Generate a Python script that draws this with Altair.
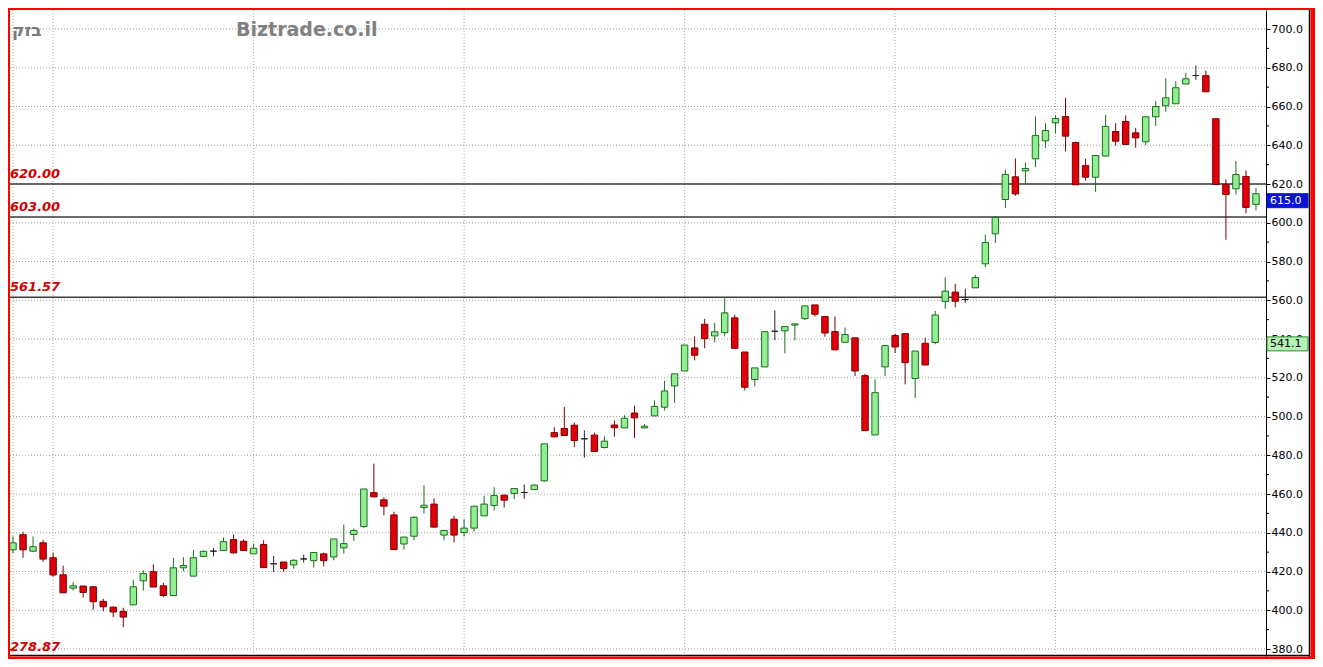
import altair as alt
import pandas as pd

# ---- data (Bezeq daily candles) ----
opens = [431.2, 439.0, 430.5, 434.8, 427.1, 418.3, 411.4, 412.5, 412.1, 404.6,
         401.6, 399.4, 402.8, 415.2, 419.9, 412.6, 407.6, 421.9, 417.6, 427.8,
         430.5, 430.8, 436.5, 435.6, 429.1, 433.9, 424.0, 424.9, 423.4, 426.5,
         425.6, 429.1, 427.5, 432.2, 439.1, 443.2, 460.7, 457.0, 449.2, 434.2,
         438.2, 453.0, 454.8, 438.8, 447.0, 440.1, 442.4, 448.7, 454.1, 459.4,
         460.3, 460.8, 462.3, 466.8, 491.7, 493.8, 495.5, 488.5, 490.4, 484.0,
         495.6, 494.1, 501.8, 494.1, 500.3, 504.8, 515.8, 523.5, 535.4, 547.6,
         541.6, 543.3, 550.9, 533.3, 519.1, 525.6, 544.0, 544.2, 547.2, 550.5,
         557.6, 551.6, 543.8, 538.3, 540.6, 521.1, 490.5, 525.6, 541.8, 542.8,
         519.6, 537.8, 538.2, 559.4, 564.2, 560.4, 566.4, 578.8, 594.3, 612.0,
         623.7, 626.8, 633.0, 642.3, 651.6, 654.8, 641.4, 629.5, 623.5, 634.4,
         647.1, 652.3, 646.4, 641.8, 654.7, 660.4, 661.4, 671.6, 676.0, 675.9,
         653.7, 619.8, 617.5, 623.9, 609.5]
highs = [438.1, 440.5, 438.1, 436.4, 429.7, 423.0, 414.5, 412.5, 412.6, 405.9,
         402.0, 401.3, 415.7, 420.6, 423.7, 414.2, 427.1, 427.4, 431.2, 430.9,
         432.1, 437.5, 439.1, 436.6, 434.4, 436.1, 428.0, 424.9, 426.3, 428.7,
         429.8, 429.8, 436.8, 444.2, 442.2, 462.6, 475.7, 458.2, 450.9, 437.8,
         448.5, 464.6, 457.8, 441.2, 448.7, 447.0, 453.7, 459.1, 463.5, 459.7,
         462.8, 464.9, 464.9, 485.9, 494.5, 505.0, 496.9, 492.8, 491.7, 489.8,
         498.0, 500.6, 505.5, 496.0, 508.3, 518.4, 522.0, 536.9, 541.4, 550.4,
         548.3, 561.7, 552.6, 533.3, 525.1, 543.8, 554.8, 546.4, 547.8, 557.1,
         557.6, 551.6, 551.6, 545.9, 540.6, 522.0, 519.2, 536.6, 542.8, 542.8,
         533.8, 540.7, 554.5, 571.9, 568.5, 565.9, 573.1, 593.9, 603.5, 627.5,
         633.2, 631.1, 654.8, 651.4, 655.4, 664.5, 641.9, 633.0, 634.7, 655.7,
         651.4, 655.4, 649.0, 654.7, 662.8, 674.5, 673.1, 677.4, 681.2, 678.5,
         653.7, 622.4, 631.8, 627.0, 617.9]
lows = [429.5, 427.1, 430.0, 424.9, 417.3, 409.0, 410.2, 406.5, 400.3, 399.4,
        396.5, 391.3, 402.8, 410.1, 412.0, 406.8, 407.6, 420.2, 417.6, 427.4,
        427.8, 430.8, 429.2, 430.8, 429.1, 422.0, 419.8, 419.8, 421.5, 424.6,
        422.0, 422.7, 425.8, 429.2, 435.8, 442.5, 458.5, 449.0, 431.3, 431.3,
        436.1, 449.9, 442.9, 436.0, 435.0, 438.1, 440.6, 448.7, 451.5, 453.0,
        457.3, 457.5, 462.3, 466.3, 489.2, 490.2, 484.2, 478.8, 481.9, 483.5,
        489.6, 494.1, 488.9, 494.1, 500.3, 503.1, 507.0, 523.5, 529.0, 535.2,
        538.3, 541.4, 535.2, 513.5, 515.6, 525.6, 539.4, 532.6, 539.4, 549.8,
        551.6, 541.2, 534.4, 538.3, 520.9, 492.7, 490.5, 520.8, 532.8, 516.6,
        509.6, 526.6, 537.3, 555.6, 556.4, 558.7, 566.4, 577.1, 589.6, 607.7,
        613.9, 620.1, 628.7, 638.7, 646.2, 636.8, 619.6, 621.8, 616.0, 634.4,
        639.9, 640.4, 638.7, 640.1, 649.9, 657.3, 661.4, 671.6, 673.8, 667.6,
        619.8, 591.2, 614.6, 604.8, 606.4]
closes = [434.8, 431.2, 432.8, 426.4, 418.2, 409.0, 412.6, 409.2, 404.4, 401.8,
          399.1, 396.5, 412.1, 419.0, 412.0, 407.6, 421.9, 423.1, 427.1, 430.4,
          430.5, 435.4, 429.6, 430.8, 432.0, 422.0, 424.0, 421.5, 425.8, 426.5,
          429.8, 425.6, 436.8, 434.4, 441.2, 462.6, 458.5, 453.7, 431.3, 437.8,
          448.0, 454.2, 442.9, 441.2, 438.8, 442.4, 453.7, 454.8, 459.2, 456.8,
          462.8, 460.8, 464.6, 485.9, 489.5, 490.2, 487.6, 488.5, 481.9, 487.3,
          494.2, 499.1, 499.3, 495.0, 505.2, 513.2, 522.0, 536.9, 531.6, 540.2,
          543.7, 553.5, 535.2, 515.1, 525.1, 543.8, 544.0, 546.4, 547.8, 557.1,
          552.8, 543.1, 534.4, 542.3, 523.5, 492.7, 512.3, 536.6, 535.9, 527.8,
          533.8, 526.6, 552.4, 564.7, 559.5, 560.4, 571.7, 589.8, 602.7, 624.9,
          614.9, 628.0, 645.0, 647.6, 653.8, 644.7, 619.6, 623.5, 634.7, 649.7,
          642.1, 640.4, 643.8, 654.7, 660.0, 664.5, 669.7, 674.3, 676.0, 667.6,
          619.8, 614.6, 624.9, 607.9, 615.0]

level_values = [620.0, 603.0, 561.57]
level_labels = ["620.00", "603.00", "561.57"]
grid_values = list(range(380, 701, 20))
minor_values = list(range(390, 700, 20))
month_starts = [0, 4, 24, 45, 67, 88, 104]
last_price = [615.0]
marker_price = [541.1]
bottom_label = "278.87"
title_he = "בזק"
title_site = "Biztrade.co.il"

# ---- layout ----
W, H = 1256, 646
YMIN, YMAX = 376.39, 709.81
XMIN, XMAX = -0.3, 125.0
PX_PER_UNIT = H / (YMAX - YMIN)

n = len(opens)
df = pd.DataFrame({"i": list(range(n)), "open": opens, "high": highs,
                   "low": lows, "close": closes})
df["dir"] = ["up" if c > o else ("down" if c < o else "flat")
             for o, c in zip(opens, closes)]

xs = alt.Scale(domain=[XMIN, XMAX], nice=False, zero=False)
ys = alt.Scale(domain=[YMIN, YMAX], nice=False, zero=False)
yaxis = alt.Axis(orient="right", values=grid_values, format=".1f", grid=False,
                 title=None, domainColor="#000000", domainWidth=1,
                 tickColor="#000000", tickSize=4, labelPadding=1,
                 labelFont="DejaVu Sans", labelFontSize=11,
                 labelColor="#000000", labelBaseline="middle")

def Y(field, t="Q"):
    return alt.Y(f"{field}:{t}", scale=ys, axis=yaxis)

dir_dom = ["up", "down", "flat"]
fill_sc = alt.Scale(domain=dir_dom, range=["#92ee92", "#e0000a", "#2a2a2a"])
stroke_sc = alt.Scale(domain=dir_dom, range=["#1d6e1d", "#7a0000", "#202020"])

one = pd.DataFrame({"k": [0]})

hgrid = alt.Chart(pd.DataFrame({"v": grid_values})).mark_rule(
    color="#9c9c9c", strokeDash=[1, 2], strokeWidth=1
).encode(y=Y("v"), x=alt.value(0), x2=alt.value(W))

vgrid = alt.Chart(pd.DataFrame({"m": month_starts})).mark_rule(
    color="#a8a8a8", strokeDash=[1, 2], strokeWidth=1
).encode(x=alt.X("m:Q", scale=xs, axis=None), y=alt.value(0), y2=alt.value(H))

levels_df = pd.DataFrame({"v": level_values, "lab": level_labels})
level_lines = alt.Chart(levels_df).mark_rule(color="#3a3a3a", strokeWidth=1.5).encode(
    y=Y("v"), x=alt.value(0), x2=alt.value(W))
level_text = alt.Chart(levels_df).mark_text(
    align="left", baseline="bottom", dy=-3, font="DejaVu Sans", fontSize=13,
    fontStyle="italic", fontWeight="bold", color="#d40000"
).encode(y=Y("v"), x=alt.value(0), text="lab:N")

wicks = alt.Chart(df).mark_rule(strokeWidth=1).encode(
    x=alt.X("i:Q", scale=xs, axis=None), y=Y("low"), y2="high:Q",
    stroke=alt.Stroke("dir:N", scale=stroke_sc, legend=None))

bodies = alt.Chart(df).transform_calculate(
    x0="datum.i - 0.32", x1="datum.i + 0.32"
).mark_rect(strokeWidth=1).encode(
    x=alt.X("x0:Q", scale=xs, axis=None), x2="x1:Q",
    y=Y("open"), y2="close:Q",
    fill=alt.Fill("dir:N", scale=fill_sc, legend=None),
    stroke=alt.Stroke("dir:N", scale=stroke_sc, legend=None))

minor = alt.Chart(pd.DataFrame({"v": minor_values})).mark_rule(color="#000000").encode(
    y=Y("v"), x=alt.value(W), x2=alt.value(W + 3))


def price_box(values, fill, stroke, text_color):
    d = pd.DataFrame({"v": values})
    d["lab"] = [f"{v:.1f}" for v in values]
    d["v2"] = d["v"] - 14 / PX_PER_UNIT
    box = alt.Chart(d).mark_rect(fill=fill, stroke=stroke, strokeWidth=1).encode(
        y=Y("v"), y2="v2:Q", x=alt.value(W + 1), x2=alt.value(W + 42))
    lab = alt.Chart(d).mark_text(
        align="left", baseline="middle", dy=7, font="DejaVu Sans", fontSize=11,
        color=text_color
    ).encode(y=Y("v"), x=alt.value(W + 4), text="lab:N")
    return box, lab


last_box, last_lab = price_box(last_price, "#0a14d0", "#0a14d0", "#ffffff")
mark_box, mark_lab = price_box(marker_price, "#b6f2b6", "#2e8b2e", "#000000")

t_he = alt.Chart(one).mark_text(
    align="left", baseline="middle", font="DejaVu Sans", fontSize=17,
    fontWeight="bold", color="#7a7a7a", text=title_he
).encode(x=alt.value(2), y=alt.value(21))
t_site = alt.Chart(one).mark_text(
    align="left", baseline="middle", font="DejaVu Sans", fontSize=19,
    fontWeight="bold", color="#808080", text=title_site
).encode(x=alt.value(226), y=alt.value(20))
t_bottom = alt.Chart(one).mark_text(
    align="left", baseline="alphabetic", font="DejaVu Sans", fontSize=13,
    fontStyle="italic", fontWeight="bold", color="#d40000", text=bottom_label
).encode(x=alt.value(0), y=alt.value(641))

# frame decorations
bottom_line = alt.Chart(one).mark_rule(color="#000000", strokeWidth=1.5).encode(
    y=alt.value(645.5), x=alt.value(-2), x2=alt.value(1300))
right_line = alt.Chart(one).mark_rule(color="#000000", strokeWidth=1.5).encode(
    x=alt.value(1299.5), y=alt.value(-2), y2=alt.value(647))
red_left = alt.Chart(one).mark_rect(color="#ff0000").encode(
    x=alt.value(-2), x2=alt.value(0), y=alt.value(-2), y2=alt.value(649))
red_top = alt.Chart(one).mark_rect(color="#ff0000").encode(
    x=alt.value(-2), x2=alt.value(1305), y=alt.value(-2), y2=alt.value(0))
red_right = alt.Chart(one).mark_rect(color="#ff0000").encode(
    x=alt.value(1300.5), x2=alt.value(1305), y=alt.value(-2), y2=alt.value(649))
red_bottom = alt.Chart(one).mark_rect(color="#ff0000").encode(
    x=alt.value(-2), x2=alt.value(1305), y=alt.value(646.5), y2=alt.value(649))

chart = alt.layer(
    hgrid, vgrid, level_lines, level_text, wicks, bodies, minor,
    last_box, last_lab, mark_box, mark_lab, t_he, t_site, t_bottom,
    bottom_line, right_line, red_left, red_top, red_right, red_bottom
).properties(
    width=W, height=H,
    autosize=alt.AutoSizeParams(type="none"),
    padding={"left": 2, "top": 2, "right": 49, "bottom": 3},
    background="#ffffff"
).configure_view(stroke=None)

chart.save("out.html", embed_options={"renderer": "svg", "actions": False})
